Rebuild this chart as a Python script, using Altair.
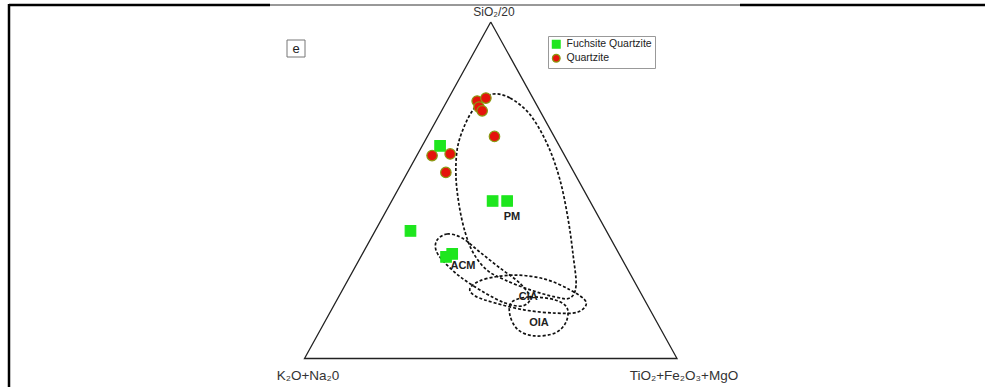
import altair as alt
import pandas as pd

# ---- Ternary data (percent): A = SiO2/20 (apex), C = TiO2+Fe2O3+MgO (right); K2O+Na2O = 100 - A - C
groups = ["Fuchsite Quartzite", "Quartzite"]

fq_sio2 = [63.2, 46.8, 46.8, 37.9, 31.1, 30.2]
fq_ftm = [4.8, 27.1, 31.0, 9.5, 24.1, 22.9]

qz_sio2 = [76.5, 77.4, 74.7, 73.6, 66.0, 60.3, 60.8, 55.3]
qz_ftm = [8.1, 10.0, 9.5, 10.9, 18.0, 4.1, 8.7, 10.3]

# Tectonic setting fields (outline vertices)
pm_sio2 = [78.6, 77.4, 72.4, 63.4, 53.0, 41.2, 30.8, 21.8, 18.0, 18.3, 20.4, 23.3, 26.3, 31.4, 37.6, 45.6, 54.5, 63.4, 71.5, 76.2]
pm_ftm = [11.3, 16.5, 24.4, 33.6, 42.1, 50.2, 56.7, 62.0, 62.3, 58.1, 50.4, 42.2, 35.8, 29.6, 24.3, 18.7, 13.4, 9.5, 8.2, 9.0]

acm_sio2 = [35.2, 37.0, 35.8, 31.6, 26.9, 22.4, 18.0, 15.6, 16.5, 19.5, 23.9, 28.7, 32.2]
acm_ftm = [18.0, 19.8, 24.4, 31.3, 39.0, 46.6, 51.6, 50.6, 45.6, 38.7, 30.3, 23.1, 19.2]

cia_sio2 = [21.0, 23.6, 24.8, 23.6, 20.4, 16.8, 13.8, 13.5, 14.4, 16.5, 18.6]
cia_ftm = [34.0, 36.6, 44.1, 52.7, 61.1, 67.2, 66.5, 60.5, 52.0, 42.9, 36.5]

oia_sio2 = [16.8, 18.3, 17.4, 15.0, 10.8, 7.6, 6.7, 8.5, 12.9]
oia_ftm = [47.3, 51.4, 58.6, 63.0, 64.8, 63.5, 58.5, 53.1, 48.7]

field_names = ["PM", "ACM", "CIA", "OIA"]
label_sio2 = [42.0, 27.5, 18.3, 10.5]
label_ftm = [34.7, 28.8, 50.9, 57.7]

corner_sio2 = [100, 0, 0, 100]
corner_ftm = [0, 0, 100, 0]


def to_xy(a, c):
    return c / 100 + a / 200, a / 100


def frame(a_list, c_list, **extra):
    rows = []
    for i, (a, c) in enumerate(zip(a_list, c_list)):
        x, y = to_xy(a, c)
        row = {"x": x, "y": y, "i": i, "SiO2/20": a, "TiO2+Fe2O3+MgO": c, "K2O+Na2O": 100 - a - c}
        row.update(extra)
        rows.append(row)
    return pd.DataFrame(rows)


pts = pd.concat([
    frame(fq_sio2, fq_ftm, group=groups[0]),
    frame(qz_sio2, qz_ftm, group=groups[1]),
])
fields = pd.concat([
    frame(pm_sio2, pm_ftm, field="PM"),
    frame(acm_sio2, acm_ftm, field="ACM"),
    frame(cia_sio2, cia_ftm, field="CIA"),
    frame(oia_sio2, oia_ftm, field="OIA"),
])
labels = frame(label_sio2, label_ftm)
labels["name"] = field_names
tri = frame(corner_sio2, corner_ftm)

W, H = 986, 387
xs = alt.Scale(domain=[-304.5 / 372.5, (W - 304.5) / 372.5], nice=False, zero=False)
ys = alt.Scale(domain=[-28.5 / 336.5, -28.5 / 336.5 + H / 336.5], nice=False, zero=False)
X = alt.X("x:Q", scale=xs, axis=None)
Y = alt.Y("y:Q", scale=ys, axis=None)
FONT = "Liberation Sans"
one = pd.DataFrame({"d": [0]})

# decorative frame
frame_thick = alt.Chart(pd.DataFrame({"x1": [9, 740], "x2": [270, 985]})).mark_rule(
    color="black", strokeWidth=2.5).encode(x=alt.X("x1:Q", scale=None), x2="x2:Q", y=alt.value(5))
frame_thin = alt.Chart(one).mark_rule(color="#333", strokeWidth=1).encode(
    x=alt.value(270), x2=alt.value(740), y=alt.value(5))
frame_left = alt.Chart(one).mark_rule(color="black", strokeWidth=2.5).encode(
    x=alt.value(9), y=alt.value(4), y2=alt.value(387))

triangle = alt.Chart(tri).mark_line(color="#222", strokeWidth=1.3).encode(x=X, y=Y, order="i:Q")

field_lines = alt.Chart(fields).mark_line(
    color="#111", strokeWidth=1.7, strokeDash=[3, 2], interpolate="cardinal-closed"
).encode(x=X, y=Y, detail="field:N", order="i:Q")

field_text = alt.Chart(labels).mark_text(
    font=FONT, fontSize=11, fontWeight="bold", color="#222").encode(x=X, y=Y, text="name:N")

leg = alt.Legend(title=None, orient="none", legendX=548, legendY=36, strokeColor="#999",
                 fillColor="white", padding=3, labelFont=FONT, labelFontSize=10.5,
                 labelColor="#222", symbolSize=60, rowPadding=0, labelOffset=5,
                 symbolStrokeWidth=1.2, labelLimit=200)

points = alt.Chart(pts).mark_point(filled=True, opacity=1, size=110, strokeWidth=1.2).encode(
    x=X, y=Y,
    shape=alt.Shape("group:N", scale=alt.Scale(domain=groups, range=["square", "circle"]), legend=leg),
    fill=alt.Fill("group:N", scale=alt.Scale(domain=groups, range=["#1ee61e", "#e5140c"]), legend=leg),
    stroke=alt.Stroke("group:N", scale=alt.Scale(domain=groups, range=["#1ee61e", "#8a9a12"]), legend=leg),
)

corner_labels = alt.Chart(pd.DataFrame({
    "t": ["SiO₂/20", "K₂O+Na₂0", "TiO₂+Fe₂O₃+MgO"],
    "px": [494, 308, 684], "py": [12, 376, 376], "fs": [12, 13.5, 13.5],
})).mark_text(font=FONT, color="#333").encode(
    x=alt.X("px:Q", scale=None), y=alt.Y("py:Q", scale=None), text="t:N",
    size=alt.Size("fs:Q", scale=None, legend=None))

ebox = alt.Chart(one).mark_rect(fill="white", stroke="#777", strokeWidth=1).encode(
    x=alt.value(287), x2=alt.value(305), y=alt.value(40), y2=alt.value(57))
etext = alt.Chart(one).mark_text(font=FONT, fontSize=13, color="#222").encode(
    x=alt.value(296), y=alt.value(48.5), text=alt.value("e"))

chart = alt.layer(
    frame_thick, frame_thin, frame_left, triangle, field_lines, points, field_text,
    corner_labels, ebox, etext
).resolve_scale(x="independent", y="independent").properties(
    width=W, height=H, padding=0, autosize=alt.AutoSizeParams(type="none")
).configure_view(stroke=None)

chart.save("out.html", embed_options={"renderer": "svg", "actions": False})
